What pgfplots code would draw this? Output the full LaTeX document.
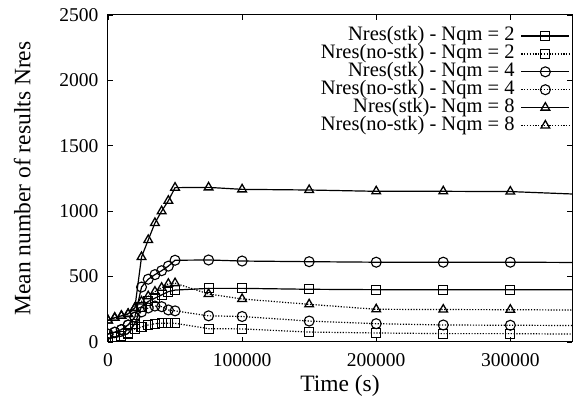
\documentclass[border=0pt]{standalone}
\usepackage{fontspec}
\setmainfont{Liberation Serif}
\usepackage{pgfplots}
\pgfplotsset{compat=1.18}
\begin{document}
\begin{tikzpicture}
\useasboundingbox (-108pt,-59pt) rectangle (465pt,342pt);
\begin{axis}[
  at={(0pt,0pt)}, anchor=origin,
  scale only axis,
  width=464pt, height=327pt,
  xmin=0, xmax=346000, ymin=0, ymax=2500,
  xtick={0,100000,200000,300000},
  ytick={0,500,1000,1500,2000,2500},
  scaled x ticks=false,
  /pgf/number format/.cd, fixed, set thousands separator={}, assume math mode=true,
  /pgfplots/.cd,
  tick align=inside,
  major tick length=5pt,
  tick style={line width=0.9pt, black},
  axis line style={line width=1pt},
  ticklabel style={font=\fontsize{19.5pt}{21pt}\selectfont},
  xticklabel style={yshift=-8pt},
  yticklabel style={xshift=-6pt},
  xlabel={Time (s)},
  ylabel={Mean number of results Nres},
  label style={font=\fontsize{23.5pt}{25pt}\selectfont},
  xlabel style={yshift=-2pt},
  ylabel style={yshift=22pt},
  clip marker paths=true,
  legend cell align=right,
  legend plot pos=right,
  legend style={draw=none, fill=none, at={(axis description cs:0.996,0.966)}, anchor=north east,
    inner sep=0pt, column sep=5pt, row sep=-1.5pt,
    font=\fontsize{20.5pt}{22pt}\selectfont,
    nodes={text height=13pt, text depth=4pt, inner sep=1.2pt}},
  legend image code/.code={\draw[mark repeat=2,mark phase=2,#1] plot coordinates {(0pt,0pt) (24pt,0pt) (48pt,0pt)};},
  every axis plot/.append style={black, line width=1.2pt},
]
\addplot[solid, mark=square, mark size=4.5pt, mark options={solid, line width=1.1pt}] coordinates {
(0,30) (5000,35) (10000,45) (15000,65) (20000,140) (25000,270) (30000,310) (35000,335) (40000,360) (45000,385) (50000,397) (75000,410) (100000,410) (150000,403) (200000,400) (250000,400) (300000,400) (350000,400)};
\addlegendentry{Nres(stk) - Nqm = 2}
\addplot[dash pattern=on 1.2pt off 1.6pt, mark=square, mark size=4.5pt, mark options={solid, line width=1.1pt}] coordinates {
(0,30) (5000,35) (10000,45) (15000,65) (20000,100) (25000,115) (30000,130) (35000,140) (40000,143) (45000,143) (50000,143) (75000,102) (100000,100) (150000,76) (200000,69) (250000,64) (300000,64) (350000,60)};
\addlegendentry{Nres(no-stk) - Nqm = 2}
\addplot[solid, mark=o, mark size=5pt, mark options={solid, line width=1.1pt}] coordinates {
(0,60) (5000,75) (10000,95) (15000,130) (20000,190) (25000,420) (30000,480) (35000,515) (40000,545) (45000,580) (50000,625) (75000,627) (100000,619) (150000,614) (200000,610) (250000,610) (300000,610) (350000,608)};
\addlegendentry{Nres(stk) - Nqm = 4}
\addplot[dash pattern=on 1.2pt off 1.6pt, mark=o, mark size=5pt, mark options={solid, line width=1.1pt}] coordinates {
(0,60) (5000,75) (10000,95) (15000,130) (20000,190) (25000,230) (30000,260) (35000,275) (40000,270) (45000,245) (50000,238) (75000,200) (100000,195) (150000,160) (200000,140) (250000,130) (300000,128) (350000,126)};
\addlegendentry{Nres(no-stk) - Nqm = 4}
\addplot[solid, mark=triangle, mark size=5pt, mark options={solid, line width=1.3pt}] coordinates {
(0,165) (5000,185) (10000,200) (15000,215) (20000,260) (25000,650) (30000,780) (35000,910) (40000,1000) (45000,1080) (50000,1180) (75000,1182) (100000,1167) (150000,1162) (200000,1152) (250000,1152) (300000,1150) (350000,1130)};
\addlegendentry{Nres(stk)- Nqm = 8}
\addplot[dash pattern=on 1.2pt off 1.6pt, mark=triangle, mark size=5pt, mark options={solid, line width=1.3pt}] coordinates {
(0,165) (5000,185) (10000,200) (15000,215) (20000,260) (25000,310) (30000,350) (35000,385) (40000,415) (45000,445) (50000,450) (75000,367) (100000,329) (150000,288) (200000,250) (250000,248) (300000,247) (350000,244)};
\addlegendentry{Nres(no-stk) - Nqm = 8}
\end{axis}
\end{tikzpicture}
\end{document}
